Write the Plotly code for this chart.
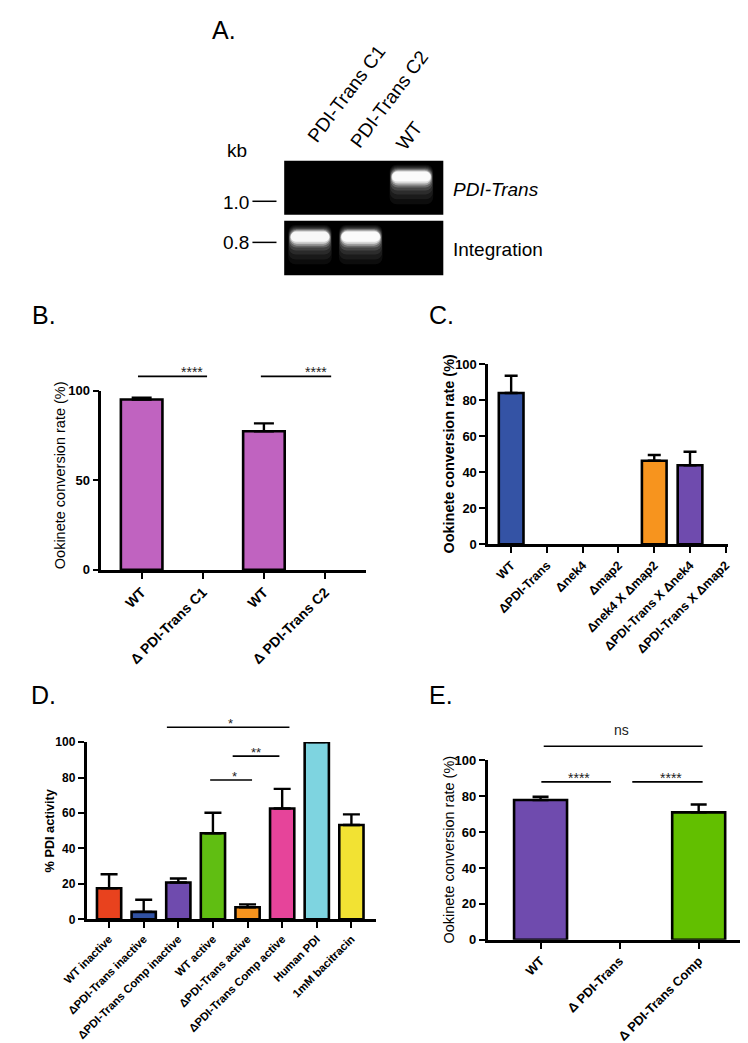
import plotly.graph_objects as go

W, H = 748, 1043
FONT = "Liberation Sans, Arial, sans-serif"

# ---------------- data ----------------
# Panel A (gel)
gel_lanes = ["PDI-Trans C1", "PDI-Trans C2", "WT"]
gel_pdi_trans = [0.0, 0.0, 1.0]        # band intensity, PDI-Trans PCR
gel_integration = [0.92, 1.0, 0.0]     # band intensity, integration PCR
gel_size_labels = ["1.0", "0.8"]
gel_row_labels = ["PDI-Trans", "Integration"]

# Panel B
b_labels = ["WT", "Δ PDI-Trans C1", "WT", "Δ PDI-Trans C2"]
b_values = [95.0, 0.0, 77.3, 0.0]
b_errors = [1.0, 0.0, 4.4, 0.0]

# Panel C
c_labels = ["WT", "ΔPDI-Trans", "Δnek4", "Δmap2", "Δnek4 X Δmap2",
            "ΔPDI-Trans X Δnek4", "ΔPDI-Trans X Δmap2"]
c_values = [84.0, 0.0, 0.0, 0.0, 46.4, 43.9, 0.0]
c_errors = [9.6, 0.0, 0.0, 0.0, 3.2, 7.5, 0.0]

# Panel D
d_labels = ["WT inactive", "ΔPDI-Trans inactive", "ΔPDI-Trans Comp inactive",
            "WT active", "ΔPDI-Trans active", "ΔPDI-Trans Comp active",
            "Human PDI", "1mM bacitracin"]
d_values = [17.5, 4.2, 20.8, 48.6, 6.8, 62.5, 100.0, 53.2]
d_errors = [7.9, 6.8, 2.2, 11.5, 1.6, 11.1, 0.0, 6.0]

# Panel E
e_labels = ["WT", "Δ PDI-Trans", "Δ PDI-Trans Comp"]
e_values = [77.8, 0.0, 70.9]
e_errors = [1.8, 0.0, 4.4]

# ---------------- styles ----------------
b_colors = ["#C063C0"] * 4
c_colors = ["#3453A5", "#3453A5", "#3453A5", "#3453A5", "#F7941E", "#6F4BAE", "#6F4BAE"]
d_colors = ["#E8421E", "#3152A3", "#6F4BAE", "#60BE12", "#F7941E", "#E6449A", "#7ED4E0", "#F2E233"]
e_colors = ["#6F4BAE", "#6F4BAE", "#62BF00"]

# panel geometry in pixels (left, right, top, bottom) and ranges
P = {
    "B": dict(x=(72, 347), y=(381, 563), xr=(-0.66, 3.67), yr=(0, 100), ax=""),
    "C": dict(x=(474, 723), y=(354.3, 537), xr=(-0.64, 6.06), yr=(0, 100), ax="2"),
    "D": dict(x=(56.7, 357), y=(737.7, 917.5), xr=(-0.65, 7.7), yr=(0, 100), ax="3"),
    "E": dict(x=(473.3, 746), y=(756, 938.3), xr=(-0.67, 2.65), yr=(0, 100), ax="4"),
}


def dom_x(l, r):
    return [l / W, r / W]


def dom_y(t, b):
    return [1 - b / H, 1 - t / H]


def px_to_paper_x(px):
    return px / W


def px_to_paper_y(py):
    return 1 - py / H


def data_x_px(p, v):
    g = P[p]
    l, r = g["x"]
    lo, hi = g["xr"]
    return l + (v - lo) / (hi - lo) * (r - l)


def data_y_px(p, v):
    g = P[p]
    t, b = g["y"]
    lo, hi = g["yr"]
    return b - (v - lo) / (hi - lo) * (b - t)


fig = go.Figure()


def add_bars(p, values, errors, colors, bw, cap):
    a = P[p]["ax"]
    # zero-valued groups draw no visible bar (as in the original figure)
    y_plot = [v if v > 0 else None for v in values]
    fig.add_trace(go.Bar(
        x=list(range(len(values))), y=y_plot, width=bw,
        marker=dict(color=colors, line=dict(color="black", width=2.6)),
        error_y=dict(type="data", symmetric=False, array=errors,
                     arrayminus=[0] * len(values), color="black",
                     thickness=2.4, width=cap),
        xaxis="x" + a, yaxis="y" + a, showlegend=False, hoverinfo="skip",
    ))


add_bars("B", b_values, b_errors, b_colors, 0.68, 10)
add_bars("C", c_values, c_errors, c_colors, 0.69, 6.5)
add_bars("D", d_values, d_errors, d_colors, 0.70, 8.5)
add_bars("E", e_values, e_errors, e_colors, 0.67, 8)

# ---------------- gel bands (axis x5/y5, y = migration from gel top) ----------------
lanes = list(range(len(gel_lanes)))


def band(intens, base, h, alpha, width, radius):
    fig.add_trace(go.Bar(
        x=lanes, y=[h] * len(lanes), base=[base] * len(lanes), width=width,
        marker=dict(color=[f"rgba(255,255,255,{alpha * i:.3f})" for i in intens],
                    line=dict(width=0), cornerradius=radius),
        xaxis="x5", yaxis="y5", showlegend=False, hoverinfo="skip",
    ))


# glow layers: (offset from core top, height, width, alpha)
glow = [(-5, 40, 0.86, 0.05), (-4, 34, 0.85, 0.06), (-3, 28, 0.84, 0.08),
        (-2, 23, 0.83, 0.12), (-1, 19, 0.82, 0.2), (0, 16, 0.80, 0.35),
        (1, 13, 0.78, 0.6), (2, 10, 0.76, 0.9)]
for off, h, w, al in glow:
    band(gel_pdi_trans, 9 + off, h, al, w, 7)
for off, h, w, al in glow:
    band(gel_integration, 70 + off, h, al, w, 7)

shapes = []
# gel backgrounds
for (t, b) in [(148, 202.7), (208.7, 264)]:
    shapes.append(dict(type="rect", xref="paper", yref="paper", layer="below",
                       x0=px_to_paper_x(262), x1=px_to_paper_x(427.3),
                       y0=px_to_paper_y(b), y1=px_to_paper_y(t),
                       fillcolor="black", line=dict(width=0)))
# size marker lines
for yy in (189, 230.7):
    shapes.append(dict(type="line", xref="paper", yref="paper",
                       x0=px_to_paper_x(229), x1=px_to_paper_x(254),
                       y0=px_to_paper_y(yy), y1=px_to_paper_y(yy),
                       line=dict(color="black", width=1.5)))

annotations = []


def txt(text, x, y, size, bold=False, angle=0, xanchor="center", yanchor="middle",
        italic=False, color="black"):
    annotations.append(dict(
        text=text, x=px_to_paper_x(x), y=px_to_paper_y(y), xref="paper", yref="paper",
        showarrow=False, textangle=angle, xanchor=xanchor, yanchor=yanchor,
        font=dict(family=FONT, size=size, color=color,
                  weight="bold" if bold else "normal",
                  style="italic" if italic else "normal"),
    ))


# Panel A texts
txt("A.", 199, 15, 25)
txt("kb", 213, 137, 19)
txt(gel_size_labels[0], 228, 190, 19, xanchor="right")
txt(gel_size_labels[1], 228, 231, 19, xanchor="right")
txt(gel_row_labels[0], 435, 177, 19, xanchor="left", italic=True)
txt(gel_row_labels[1], 435, 238, 19, xanchor="left")
for name, (cx, cy) in zip(gel_lanes, [(327, 80), (371, 86), (392, 122)]):
    txt(name, cx, cy, 19, angle=-53)

# panel letters
txt("B.", 12, 304, 25)
txt("C.", 425, 304, 25)
txt("D.", 12, 690, 25)
txt("E.", 425, 690, 25)

# y-axis titles
txt("Ookinete conversion rate (%)", 29, 467, 14.5, angle=-90)
txt("Ookinete conversion rate (%)", 433, 445, 14.4, bold=True, angle=-90)
txt("% PDI activity", 19, 828, 12.7, bold=True, angle=-90)
txt("Ookinete conversion rate (%)", 433, 847, 14.5, angle=-90)


def sig(p, x0, x1, yv):
    ypx = data_y_px(p, yv)
    shapes.append(dict(type="line", xref="paper", yref="paper",
                       x0=px_to_paper_x(data_x_px(p, x0)), x1=px_to_paper_x(data_x_px(p, x1)),
                       y0=px_to_paper_y(ypx), y1=px_to_paper_y(ypx),
                       line=dict(color="black", width=1.6)))
    return ypx


def sig_label(p, xc, ypx, label, size):
    txt(label, data_x_px(p, xc), ypx, size, color="#222")


yb = sig("B", -0.06, 1.07, 107.9)
sig_label("B", 0.82, yb - 4, "****", 14)
yb = sig("B", 1.95, 3.10, 107.9)
sig_label("B", 2.85, yb - 4, "****", 14)

yd = sig("D", 1.67, 5.21, 108.4)
sig_label("D", 3.5, yd - 4, "*", 13)
yd = sig("D", 3.57, 4.92, 92.1)
sig_label("D", 4.23, yd - 4, "**", 13)
yd = sig("D", 2.92, 4.13, 78.6)
sig_label("D", 3.62, yd - 4, "*", 13)

ye = sig("E", 0.04, 2.05, 107.7)
sig_label("E", 1.03, ye - 17, "ns", 14)
ye = sig("E", 0.01, 0.89, 87.9)
sig_label("E", 0.49, ye - 4, "****", 14)
ye = sig("E", 1.16, 2.05, 87.9)
sig_label("E", 1.65, ye - 4, "****", 14)

# ---------------- axes ----------------
axis_common = dict(showline=True, linecolor="black", linewidth=2.6, ticks="outside",
                   ticklen=6, tickwidth=2.4, tickcolor="black", showgrid=False,
                   zeroline=False, fixedrange=True)

layout_axes = {}
xtick_sizes = {"B": 14, "C": 12.5, "D": 11.3, "E": 12.8}
ytick_sizes = {"B": 13, "C": 13, "D": 12, "E": 13}
labels = {"B": b_labels, "C": c_labels, "D": d_labels, "E": e_labels}
ytickvals = {"B": [0, 50, 100], "C": list(range(0, 101, 20)),
             "D": list(range(0, 101, 20)), "E": list(range(0, 101, 20))}
for p, g in P.items():
    a = g["ax"]
    layout_axes["xaxis" + a] = dict(
        axis_common, domain=dom_x(*g["x"]), range=list(g["xr"]), anchor="y" + a,
        tickmode="array", tickvals=list(range(len(labels[p]))), ticktext=labels[p],
        tickangle=-45,
        tickfont=dict(family=FONT, size=xtick_sizes[p], color="black", weight="bold"))
    layout_axes["yaxis" + a] = dict(
        axis_common, domain=dom_y(*g["y"]), range=list(g["yr"]), anchor="x" + a,
        tickmode="array", tickvals=ytickvals[p],
        tickfont=dict(family=FONT, size=ytick_sizes[p], color="black", weight="bold"))

layout_axes["xaxis5"] = dict(domain=dom_x(262, 427.3), range=[-0.51, 2.63],
                             visible=False, anchor="y5", fixedrange=True)
layout_axes["yaxis5"] = dict(domain=dom_y(148, 264), range=[116, 0],
                             visible=False, anchor="x5", fixedrange=True)

fig.update_layout(
    width=W, height=H, margin=dict(l=0, r=0, t=0, b=0),
    paper_bgcolor="white", plot_bgcolor="white",
    barmode="overlay", showlegend=False,
    font=dict(family=FONT, color="black"),
    shapes=shapes, annotations=annotations,
    **layout_axes,
)

fig.write_html("out.html")
